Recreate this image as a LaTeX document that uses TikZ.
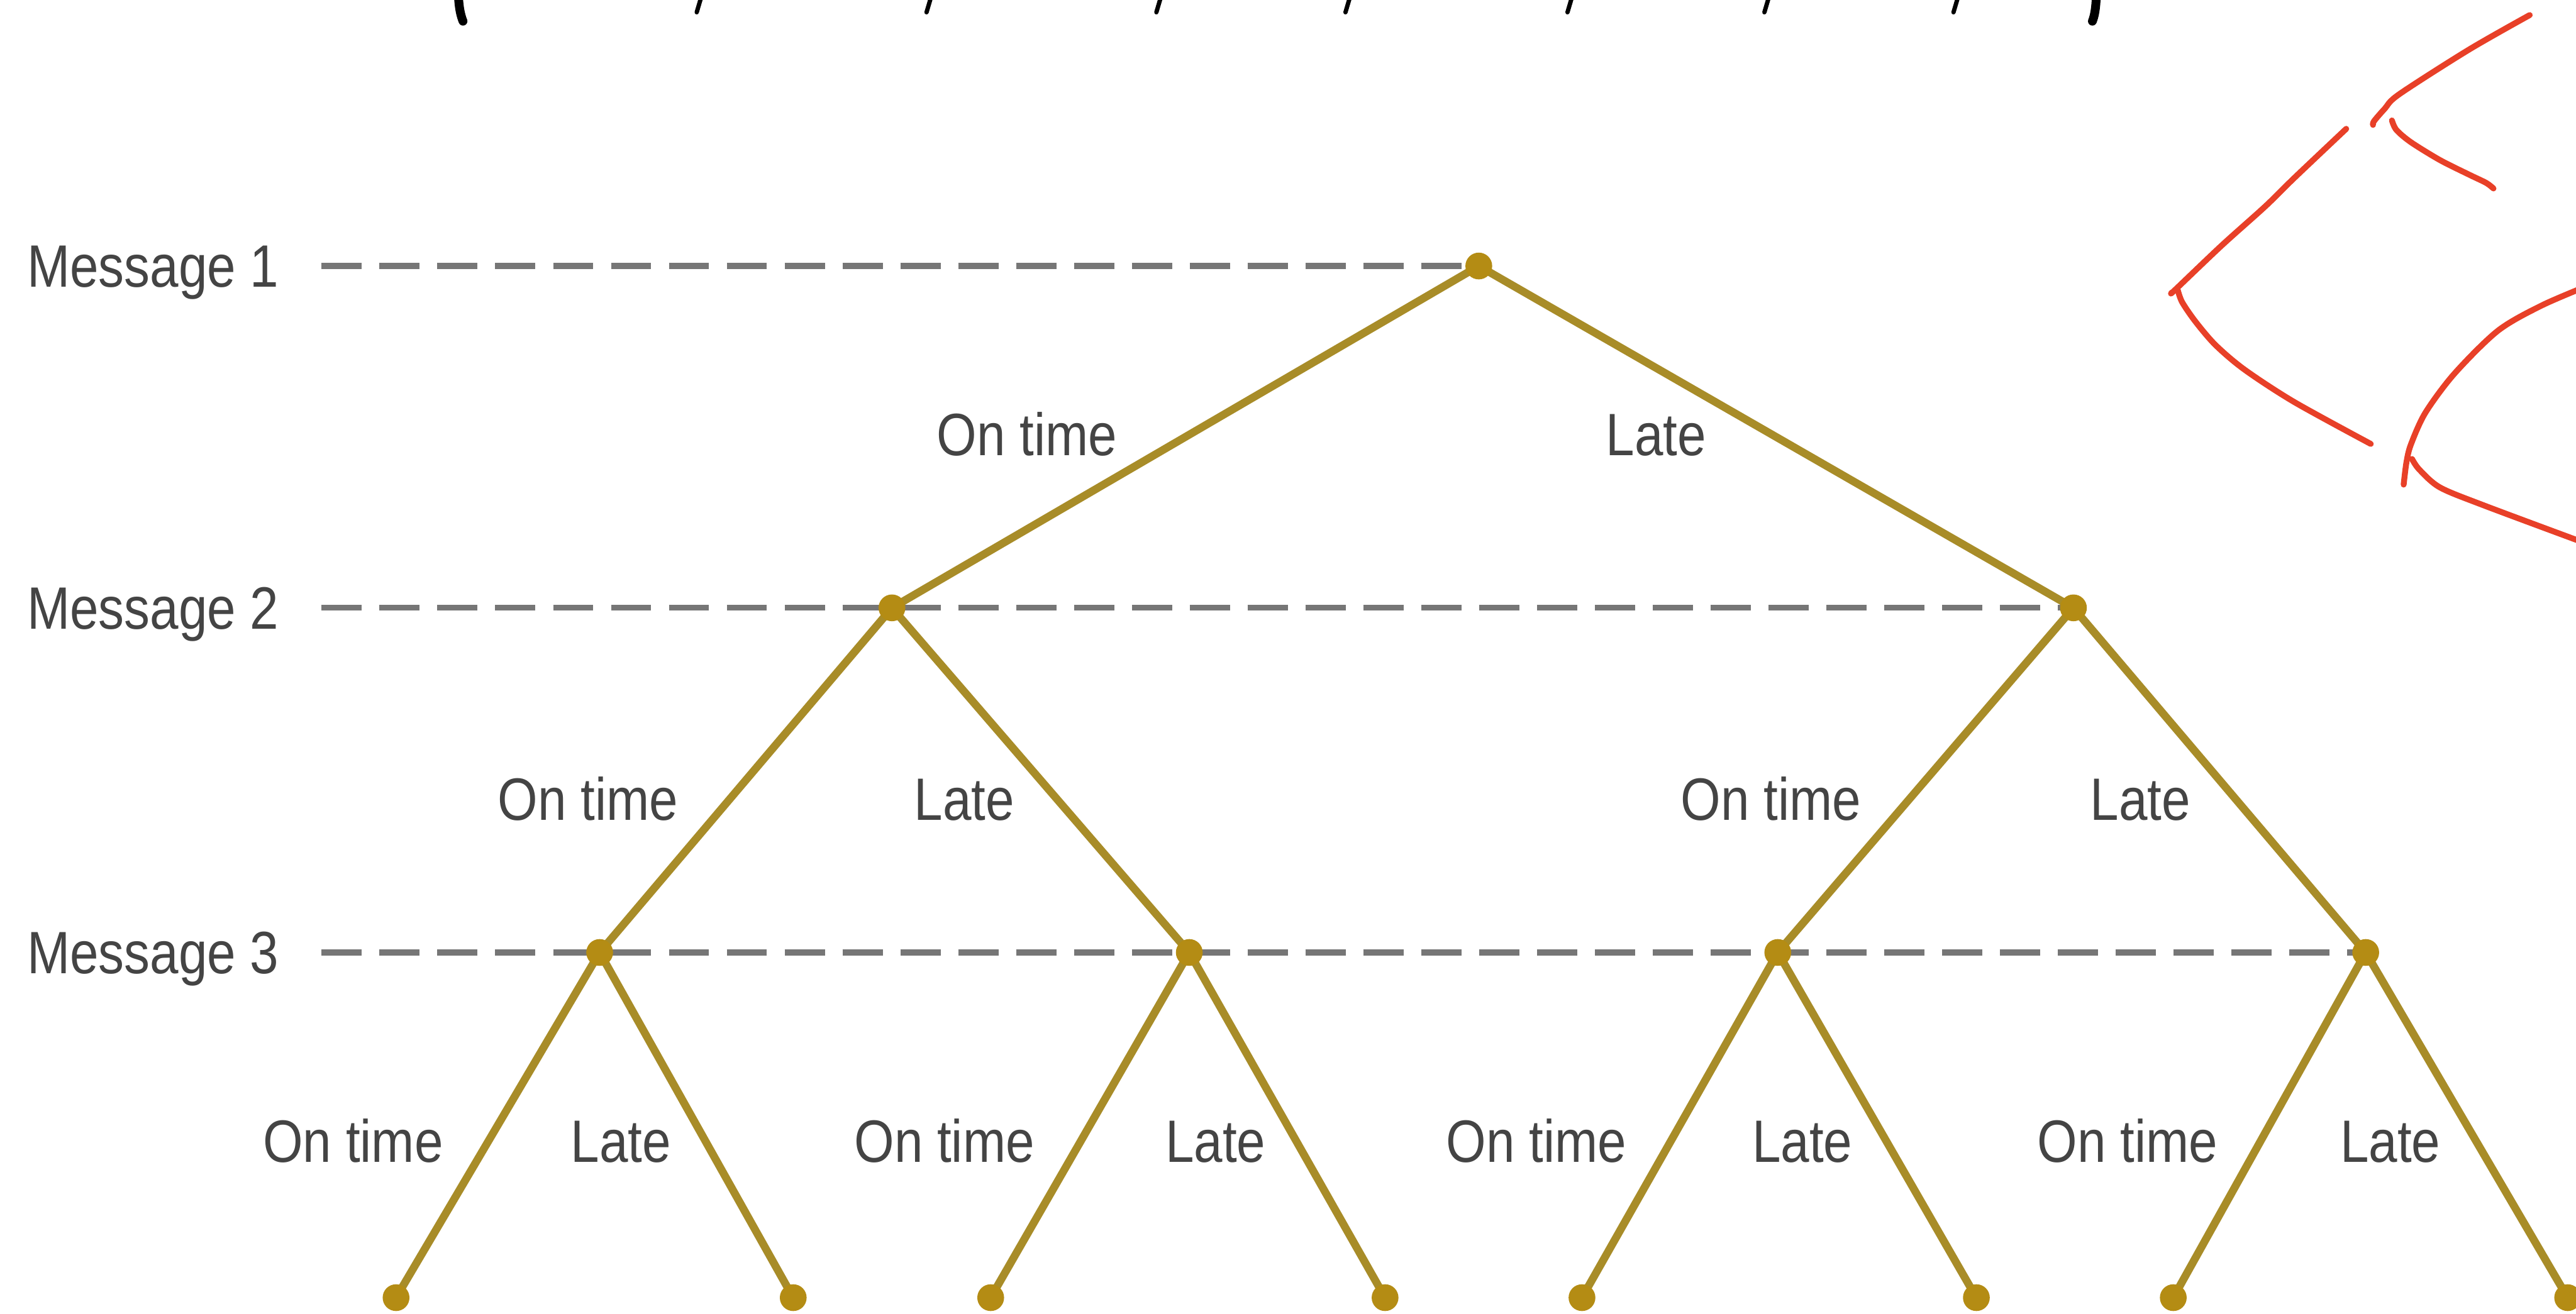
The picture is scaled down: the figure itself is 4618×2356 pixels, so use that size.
\documentclass[tikz,border=0pt]{standalone}
\usepackage{fontspec}
\setmainfont[FakeStretch=0.86]{Liberation Sans}
\usetikzlibrary{backgrounds}
\definecolor{branchc}{RGB}{168,140,40}
\definecolor{dotc}{RGB}{180,140,20}
\definecolor{dashc}{RGB}{118,118,118}
\definecolor{textc}{RGB}{68,68,68}
\definecolor{inkred}{RGB}{232,64,40}
\begin{document}
\begin{tikzpicture}[x=0.01cm,y=-0.01cm,
  dot/.style={circle,fill=dotc,inner sep=0pt,minimum size=0.48cm},
  branch/.style={draw=branchc,line width=4pt},
  dashline/.style={draw=dashc,line width=3pt,dash pattern=on 20.5pt off 9pt},
  lbl/.style={font=\fontsize{30.5pt}{36pt}\selectfont,text=textc,inner sep=0pt,anchor=base},
  msg/.style={lbl,anchor=base west},
  ink/.style={draw=inkred,line width=3pt,line cap=round,line join=round},
  frag/.style={draw=black,line cap=round}]
\useasboundingbox (0,0) rectangle (4618,2356);

% tree nodes
\node[dot] (n0) at (2651,477) {};
\node[dot] (n1) at (1599,1090) {};
\node[dot] (n2) at (3717,1090) {};
\node[dot] (n3) at (1075,1708) {};
\node[dot] (n4) at (2132,1708) {};
\node[dot] (n5) at (3187,1708) {};
\node[dot] (n6) at (4241,1708) {};
\node[dot] (l1) at (710,2327) {};
\node[dot] (l2) at (1422,2327) {};
\node[dot] (l3) at (1776,2327) {};
\node[dot] (l4) at (2483,2327) {};
\node[dot] (l5) at (2836,2327) {};
\node[dot] (l6) at (3543,2327) {};
\node[dot] (l7) at (3896,2327) {};
\node[dot] (l8) at (4603,2327) {};

% message labels
\node[msg] (m1) at (48,515) {Message 1};
\node[msg] (m2) at (48,1128) {Message 2};
\node[msg] (m3) at (48,1746) {Message 3};

% edge labels
\node[lbl] (e1) at (1841,817) {On time};
\node[lbl] (e2) at (2969,817) {Late};
\node[lbl] (e3) at (1054,1471) {On time};
\node[lbl] (e4) at (1729,1471) {Late};
\node[lbl] (e5) at (3175,1471) {On time};
\node[lbl] (e6) at (3837,1471) {Late};
\node[lbl] (e7) at (633,2084) {On time};
\node[lbl] (e8) at (1113,2084) {Late};
\node[lbl] (e9) at (1693,2084) {On time};
\node[lbl] (e10) at (2179,2084) {Late};
\node[lbl] (e11) at (2754,2084) {On time};
\node[lbl] (e12) at (3231,2084) {Late};
\node[lbl] (e13) at (3814,2084) {On time};
\node[lbl] (e14) at (4285,2084) {Late};

\begin{scope}[on background layer]
  \draw[dashline] (n0 -| m1.east) ++(76,0) -- (n0.center);
  \draw[dashline] (n1 -| m2.east) ++(76,0) -- (n2.center);
  \draw[dashline] (n3 -| m3.east) ++(76,0) -- (n6.center);
  \draw[branch] (n0.center) -- (n1.center);
  \draw[branch] (n0.center) -- (n2.center);
  \draw[branch] (n1.center) -- (n3.center);
  \draw[branch] (n1.center) -- (n4.center);
  \draw[branch] (n2.center) -- (n5.center);
  \draw[branch] (n2.center) -- (n6.center);
  \draw[branch] (n3.center) -- (l1.center);
  \draw[branch] (n3.center) -- (l2.center);
  \draw[branch] (n4.center) -- (l3.center);
  \draw[branch] (n4.center) -- (l4.center);
  \draw[branch] (n5.center) -- (l5.center);
  \draw[branch] (n5.center) -- (l6.center);
  \draw[branch] (n6.center) -- (l7.center);
  \draw[branch] (n6.center) -- (l8.center);
\end{scope}

% cut-off fragments of the title line at the top edge
\draw[frag,line width=4.5pt] (822,-5) .. controls (823,15) and (826,28) .. (830,38);
\foreach \x in {1252,1664,2076,2415,2813,3166,3505}
  \draw[frag,line width=2.2pt] (\x+5,-5) -- (\x-3,22);
\draw[frag,line width=4.5pt] (3758,-5) .. controls (3757,15) and (3755,28) .. (3751,38);

% red hand-drawn strokes
\draw[ink] plot[smooth] coordinates {(4535,27) (4426,89) (4301,169) (4275,195) (4256,217) (4254,224)};
\draw[ink] plot[smooth] coordinates {(4288,216) (4296,233) (4322,255) (4374,287) (4426,313) (4457,328) (4470,338)};
\draw[ink] plot[smooth] coordinates {(4206,231) (4113,319) (4061,370) (3983,440) (3899,520) (3894,524)};
\draw[ink] plot[smooth] coordinates {(3904,520) (3912,542) (3936,577) (3972,619) (4024,663) (4113,721) (4250,796)};
\draw[ink] plot[smooth] coordinates {(4309,869) (4314,829) (4322,797) (4348,740) (4400,670) (4478,593) (4556,548) (4640,512)};
\draw[ink] plot[smooth] coordinates {(4324,823) (4337,842) (4374,874) (4452,906) (4640,976)};
\end{tikzpicture}
\end{document}
